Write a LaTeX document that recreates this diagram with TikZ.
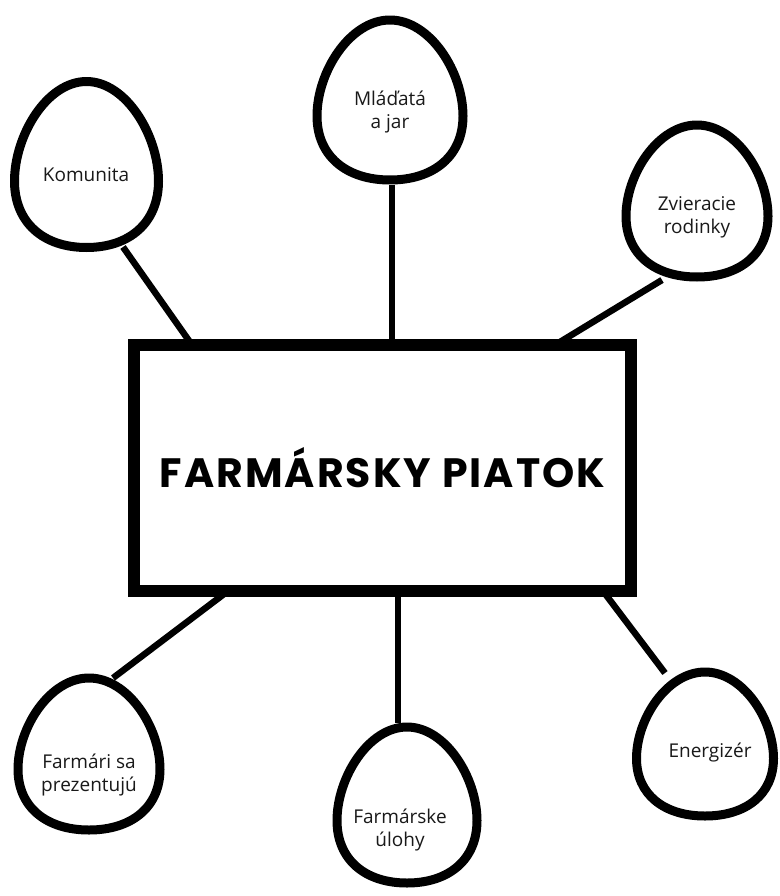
\documentclass[tikz,border=0pt]{standalone}
\usepackage{fontspec}
\setmainfont{Open Sans}
\newfontfamily\titlefont{Poppins}[LetterSpace=5]
\usetikzlibrary{calc}
\tikzset{
  eggline/.style={line width=9pt, draw=black, fill=white, line join=round},
  conn/.style={line width=6.5pt, draw=black},
  lbl/.style={align=center, font=\fontsize{19}{23}\selectfont, text=black!90, inner sep=0pt},
  mainbox/.style={draw=black, line width=12pt, fill=white, minimum width=497pt, minimum height=246pt, inner sep=0pt,
    font=\titlefont\bfseries\fontsize{41}{48}\selectfont}
}
\newcommand\drawegg[4]{%
  \draw[eggline] ({#1},{#2-#4}) .. controls ({#1+0.55*#3},{#2-#4}) and ({#1+#3},{#2-0.35*#4}) .. ({#1+#3},{#2+0.2*#4})
    .. controls ({#1+#3},{#2+0.7*#4}) and ({#1+0.6*#3},{#2+#4}) .. ({#1},{#2+#4})
    .. controls ({#1-0.6*#3},{#2+#4}) and ({#1-#3},{#2+0.7*#4}) .. ({#1-#3},{#2+0.2*#4})
    .. controls ({#1-#3},{#2-0.35*#4}) and ({#1-0.55*#3},{#2-#4}) .. cycle;}
\begin{document}
\begin{tikzpicture}[x=1pt,y=-1pt]
\fill[white] (0,0) rectangle (779,896);
\useasboundingbox (0,0) rectangle (779,896);
% connector endpoints
\coordinate (kA) at (123,247);  \coordinate (kB) at (192,345);
\coordinate (mA) at (392,185);  \coordinate (mB) at (392,345);
\coordinate (zA) at (662,280);  \coordinate (zB) at (555,345);
\coordinate (fA) at (113,678);  \coordinate (fB) at (228,591);
\coordinate (uA) at (398,723);  \coordinate (uB) at (398,591);
\coordinate (eA) at (665,673);  \coordinate (eB) at (603,591);
\draw[conn] (kA) -- (kB);
\draw[conn] (mA) -- (mB);
\draw[conn] (zA) -- (zB);
\draw[conn] (fA) -- (fB);
\draw[conn] (uA) -- (uB);
\draw[conn] (eA) -- (eB);
% central box
\node[mainbox] (main) at (382.5,468) {FARMÁRSKY PIATOK};
% eggs
\drawegg{86.5}{164.5}{72}{83}
\drawegg{390}{100}{73}{80}
\drawegg{697}{201}{71}{76}
\drawegg{89}{754}{71}{76}
\drawegg{407}{805}{70}{78}
\drawegg{705}{744}{68.5}{72}
% labels
\node[lbl] (komunita) at (86,175) {Komunita};
\node[lbl] (mladata) at (390,112) {Mláďatá\\a jar};
\node[lbl] (zvieracie) at (697,217) {Zvieracie\\rodinky};
\node[lbl] (farmari) at (89,775) {Farmári sa\\prezentujú};
\node[lbl] (ulohy) at (400,830) {Farmárske\\úlohy};
\node[lbl] (energizer) at (710,752) {Energizér};
\end{tikzpicture}
\end{document}
